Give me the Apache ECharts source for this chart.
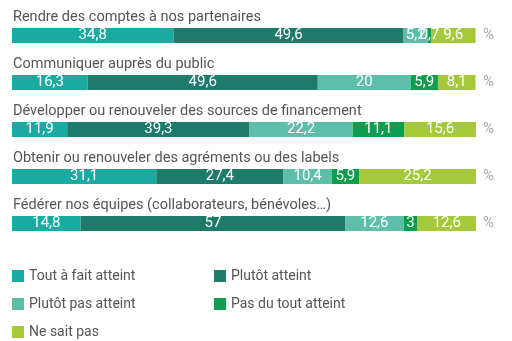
<!DOCTYPE html>
<html><head><meta charset="utf-8">
<script src="https://cdn.jsdelivr.net/npm/echarts@6/dist/echarts.min.js"></script>
<style>html,body{margin:0;padding:0;background:#fff}#c{width:512px;height:341px}</style>
</head><body><div id="c"></div>
<script>
const categories = [
  "Rendre des comptes à nos partenaires",
  "Communiquer auprès du public",
  "Développer ou renouveler des sources de financement",
  "Obtenir ou renouveler des agréments ou des labels",
  "Fédérer nos équipes (collaborateurs, bénévoles…)"
];
const seriesNames = ["Tout à fait atteint","Plutôt atteint","Plutôt pas atteint","Pas du tout atteint","Ne sait pas"];
const toutAFait = [34.8, 16.3, 11.9, 31.1, 14.8];
const plutot = [49.6, 49.6, 39.3, 27.4, 57];
const plutotPas = [5.2, 20, 22.2, 10.4, 12.6];
const pasDuTout = [0.7, 5.9, 11.1, 5.9, 3];
const neSaitPas = [9.6, 8.1, 15.6, 25.2, 12.6];
const colors = ["#19aba1", "#1e7a69", "#5dbfa9", "#0c9e4e", "#a5c93a"];
const values = [toutAFait, plutot, plutotPas, pasDuTout, neSaitPas];
const FONT = "Roboto";

const chart = echarts.init(document.getElementById('c'), null, {renderer: 'canvas'});
const legendCommon = {orient: 'vertical', padding: 0, itemWidth: 12, itemHeight: 12, itemGap: 14, icon: 'rect',
  height: 80, textStyle: {color: '#555', fontSize: 14, fontFamily: FONT}};
chart.setOption({
  animation: false,
  color: colors,
  grid: {left: 12, right: 36, top: 12, height: 235, containLabel: false},
  xAxis: {type: 'value', min: 0, max: 100, show: false},
  yAxis: [
    {type: 'category', inverse: true, data: categories,
     axisLine: {show: false}, axisTick: {show: false},
     axisLabel: {inside: true, margin: 0, align: 'left', verticalAlign: 'bottom',
       padding: [0, 0, 11, 1], color: '#555', fontSize: 14.5, fontFamily: FONT}},
    {type: 'category', inverse: true, data: categories, position: 'right',
     axisLine: {show: false}, axisTick: {show: false},
     axisLabel: {margin: 7, formatter: () => '%', color: '#aaa', fontSize: 15, fontFamily: FONT}}
  ],
  legend: [
    Object.assign({data: [seriesNames[0], seriesNames[2], seriesNames[4]], left: 12, top: 269}, legendCommon),
    Object.assign({data: [seriesNames[1], seriesNames[3]], left: 214, top: 269}, legendCommon)
  ],
  series: seriesNames.map((n, i) => ({
    name: n, type: 'bar', stack: 'total', barWidth: 15, data: values[i],
    label: {show: true, position: 'inside', color: '#fff', fontSize: 15, fontFamily: FONT,
      formatter: p => String(p.value).replace('.', ',')}
  }))
});
</script></body></html>
